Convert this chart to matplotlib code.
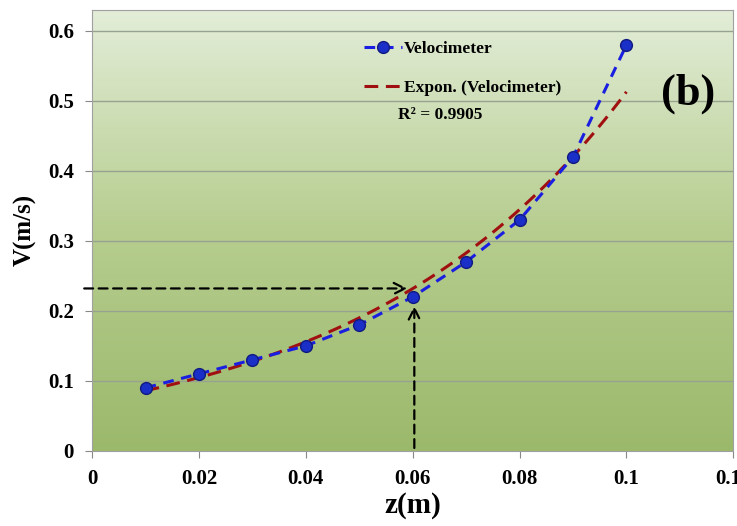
import numpy as np
import matplotlib
matplotlib.use("Agg")
from matplotlib import pyplot as plt
from matplotlib.colors import LinearSegmentedColormap

# data
z = [0.01, 0.02, 0.03, 0.04, 0.05, 0.06, 0.07, 0.08, 0.09, 0.10]
v = [0.09, 0.11, 0.13, 0.15, 0.18, 0.22, 0.27, 0.33, 0.42, 0.58]
xticks = [0, 0.02, 0.04, 0.06, 0.08, 0.1, 0.12]
xticklabels = ["0", "0.02", "0.04", "0.06", "0.08", "0.1", "0.12"]
yticks = [0, 0.1, 0.2, 0.3, 0.4, 0.5, 0.6]
yticklabels = ["0", "0.1", "0.2", "0.3", "0.4", "0.5", "0.6"]
r2_text = "R² = 0.9905"
z_mark = 0.06
v_mark = 0.232
v_point = 0.216

plt.rcParams['font.family'] = ['Liberation Serif', 'DejaVu Serif']
plt.rcParams['font.weight'] = 'bold'

fig = plt.figure(figsize=(7.37, 5.26), dpi=100)
ax = fig.add_axes([0.125, 0.143, 0.870, 0.838])

# gradient background
cmap = LinearSegmentedColormap.from_list("bg", ["#9bb96b", "#b6cd8f", "#e3edd8"])
grad = np.linspace(0, 1, 256).reshape(-1, 1)
ax.imshow(grad, aspect='auto', cmap=cmap, origin='lower',
          extent=[0, 1, 0, 1], transform=ax.transAxes, zorder=0)

ax.set_xlim(0, 0.12)
ax.set_ylim(0, 0.63)
for y in yticks[1:]:
    ax.axhline(y, color='#98a290', lw=1.0, zorder=1)

# exponential trendline
b, ln_a = np.polyfit(z, np.log(v), 1)
zz = np.linspace(z[0], z[-1], 100)
ax.plot(zz, np.exp(ln_a) * np.exp(b * zz), color='#a01010', lw=2.2,
        dashes=(4.5, 2.5), zorder=3, label='Expon. (Velocimeter)')

ax.plot(z, v, color='#1a1ee0', lw=2.2, dashes=(3.5, 2.5), marker='o',
        markersize=8.5, markerfacecolor='#1a2ec8', markeredgecolor='#101a80',
        zorder=4, label='Velocimeter')

# arrows
ax.annotate('', xy=(z_mark - 0.0005, v_mark), xytext=(-0.002, v_mark),
            arrowprops=dict(arrowstyle='->', color='black', lw=1.6,
                            linestyle=(0, (4, 2.5)), mutation_scale=20),
            annotation_clip=False, zorder=5)
ax.annotate('', xy=(z_mark + 0.0003, v_point - 0.005), xytext=(z_mark + 0.0003, 0),
            arrowprops=dict(arrowstyle='->', color='black', lw=1.6,
                            linestyle=(0, (4, 2.5)), mutation_scale=20),
            annotation_clip=False, zorder=5)

ax.set_xticks(xticks)
ax.set_xticklabels(xticklabels)
ax.set_yticks(yticks)
ax.set_yticklabels(yticklabels)
ax.tick_params(labelsize=15, length=5, color='#888888', pad=8)
for lab in ax.get_xticklabels() + ax.get_yticklabels():
    lab.set_fontweight('bold')
for s in ax.spines.values():
    s.set_color('#a0a0a0')

ax.set_xlabel('z(m)', fontsize=21, fontweight='bold', labelpad=2)
ax.set_ylabel('V(m/s)', fontsize=18, fontweight='bold', labelpad=8)

handles, labels = ax.get_legend_handles_labels()
leg = ax.legend(handles[::-1], labels[::-1], loc='upper left',
                bbox_to_anchor=(0.4, 0.965), frameon=False,
                prop={'size': 12.5, 'weight': 'bold'}, handlelength=2.2,
                handletextpad=0.1, labelspacing=1.3)
ax.text(0.477, 0.762, r2_text, transform=ax.transAxes, fontsize=12.5,
        fontweight='bold', ha='left', va='center')
ax.text(0.93, 0.81, '(b)', transform=ax.transAxes, fontsize=32,
        fontweight='bold', ha='center', va='center')

fig.savefig('out.png', dpi=100)
